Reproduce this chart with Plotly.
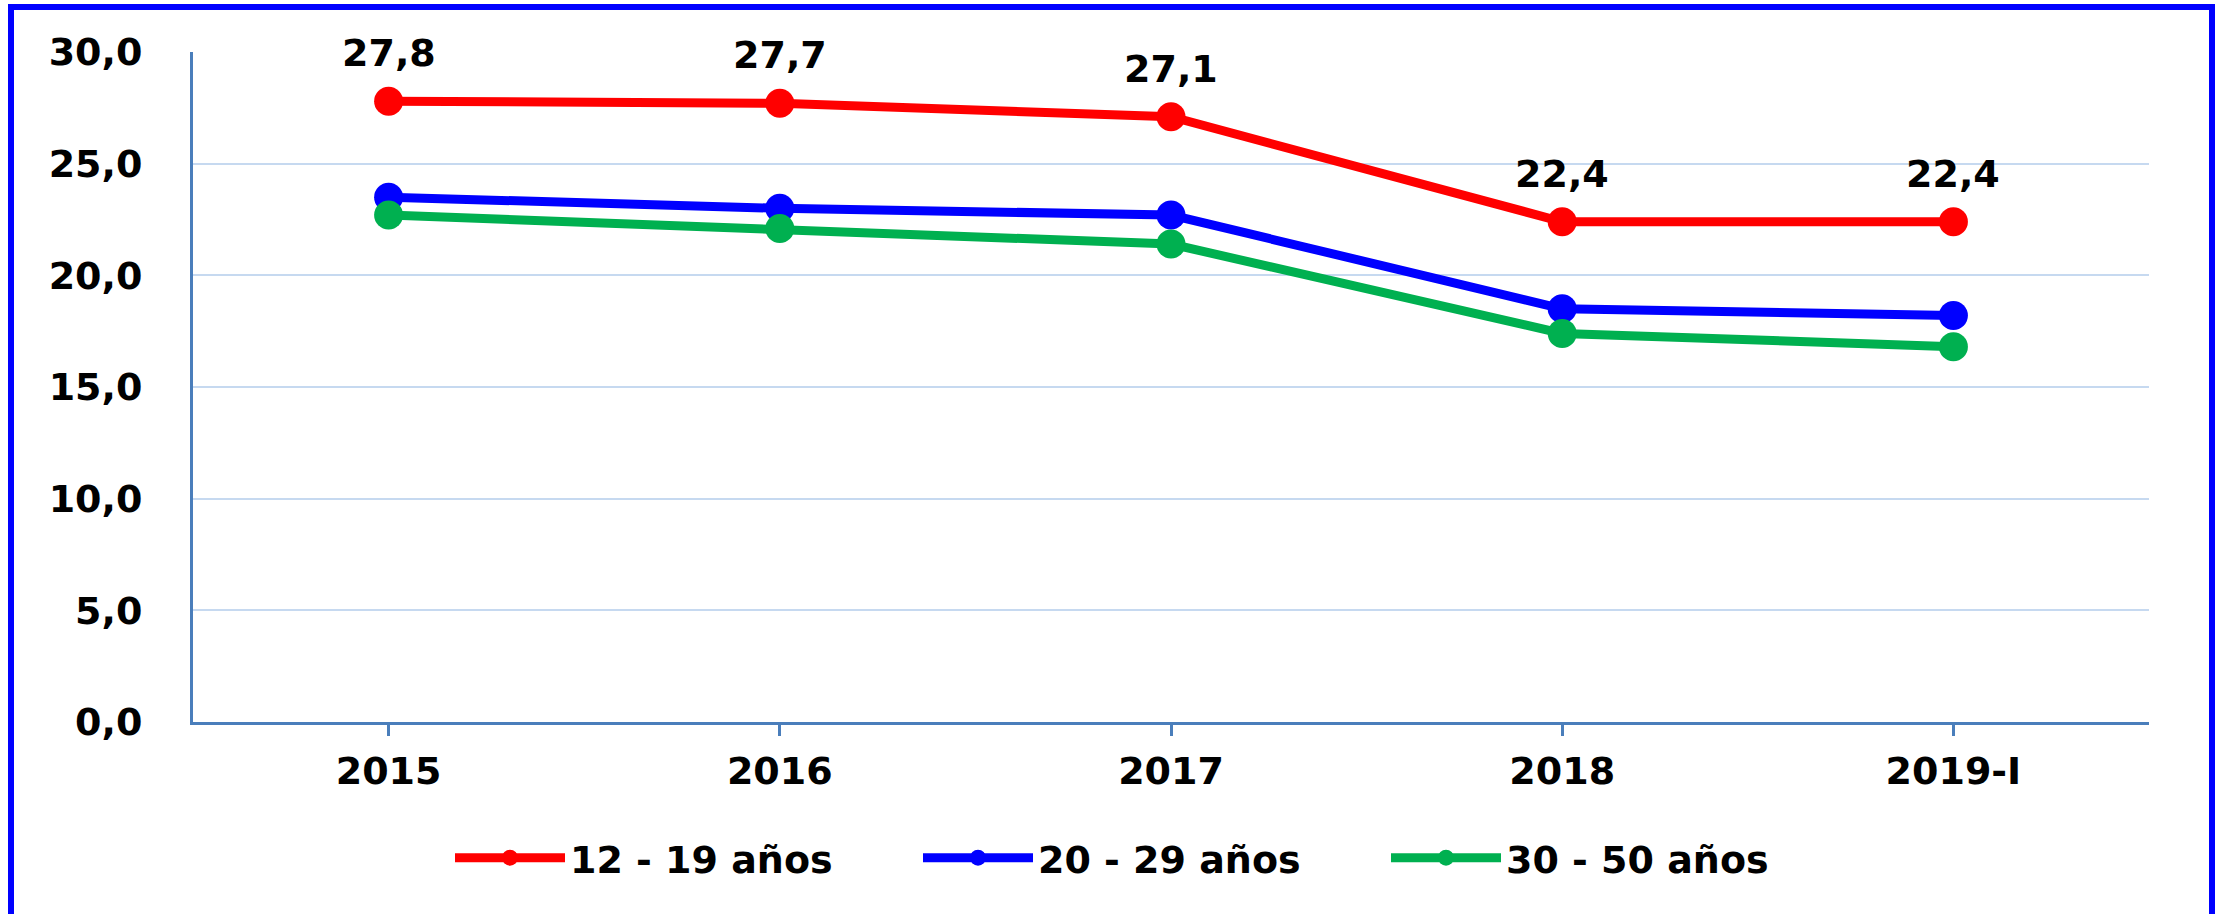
import plotly.graph_objects as go

categories = ["2015", "2016", "2017", "2018", "2019-I"]
series_names = ["12 - 19 años", "20 - 29 años", "30 - 50 años"]
vals_12_19 = [27.8, 27.7, 27.1, 22.4, 22.4]
vals_20_29 = [23.5, 23.0, 22.7, 18.5, 18.2]
vals_30_50 = [22.7, 22.1, 21.4, 17.4, 16.8]
colors = ["#FF0000", "#0000FF", "#00B050"]

W, H = 2221, 914
ML, MR, MT, MB = 193, 72, 52, 192
PW, PH = W - ML - MR, H - MT - MB

FONT = "DejaVu Sans"
FS = 38

fig = go.Figure()
for name, vals, col in zip(series_names, [vals_12_19, vals_20_29, vals_30_50], colors):
    fig.add_trace(go.Scatter(
        x=categories, y=vals, name=name, mode="lines+markers",
        line=dict(color=col, width=9),
        marker=dict(color=col, size=29),
    ))

# data labels on the top series (x given as category index)
for i, v in enumerate(vals_12_19):
    fig.add_annotation(
        x=i, y=v, text=f"{v:.1f}".replace(".", ","), showarrow=False,
        yshift=48, font=dict(family=FONT, size=FS, color="#000000", weight="bold"),
    )

def px_x(px):
    return (px - ML) / PW

def px_y(py):
    return (H - MB - py) / PH

# outer blue frame
fig.add_shape(type="rect", xref="paper", yref="paper",
              x0=px_x(11), x1=px_x(2212), y0=px_y(980), y1=px_y(7),
              line=dict(color="#0000FF", width=6), fillcolor="rgba(0,0,0,0)")

fig.update_layout(
    width=W, height=H,
    margin=dict(l=ML, r=MR, t=MT, b=MB),
    paper_bgcolor="white", plot_bgcolor="white",
    separators=",.",
    font=dict(family=FONT, size=FS, color="#000000"),
    showlegend=True,
    legend=dict(
        orientation="h", x=px_x(1152), xanchor="center", y=px_y(858), yanchor="middle",
        font=dict(family=FONT, size=FS, color="#000000", weight="bold"),
        itemwidth=110, entrywidth=343, tracegroupgap=0,
    ),
    xaxis=dict(
        type="category", range=[-0.5, 4.5],
        showline=True, linecolor="#4A7EBB", linewidth=3,
        ticks="outside", ticklen=11, tickwidth=3, tickcolor="#4A7EBB",
        showgrid=False, zeroline=False,
        tickfont=dict(family=FONT, size=FS, color="#000000", weight="bold"),
        ticklabelstandoff=2,
    ),
    yaxis=dict(
        range=[0, 30], dtick=5, tickformat=".1f",
        showline=True, linecolor="#4A7EBB", linewidth=3,
        showgrid=True, gridcolor="#C6D9F0", gridwidth=2,
        zeroline=False, ticks="",
        tickfont=dict(family=FONT, size=FS, color="#000000", weight="bold"),
        ticklabelstandoff=40,
    ),
)

fig.write_html("out.html", config={"displayModeBar": False},
               post_script="document.body.style.margin='0';")
